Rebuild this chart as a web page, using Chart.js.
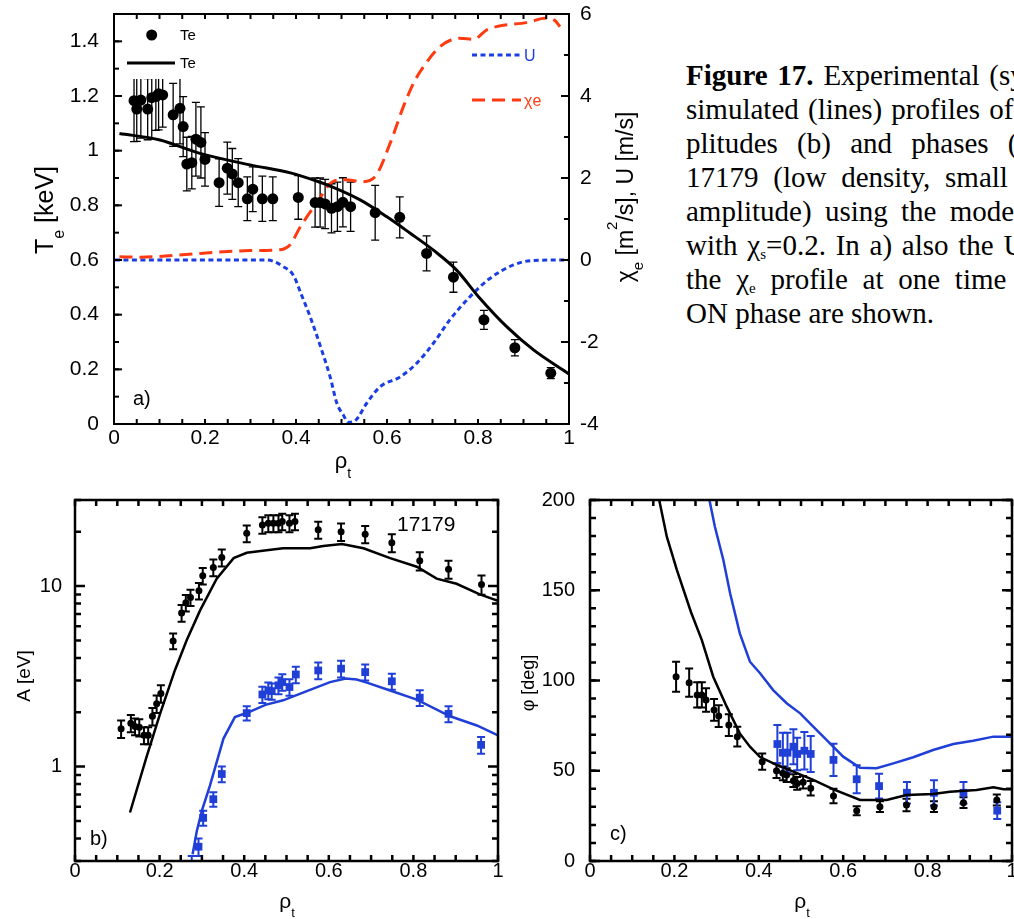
<!DOCTYPE html>
<html>
<head>
<meta charset="utf-8">
<script src="https://cdn.jsdelivr.net/npm/chart.js@4.4.1/dist/chart.umd.min.js"></script>
<style>
  html, body { margin: 0; padding: 0; background: #fff; overflow: hidden; width: 1014px; height: 919px; }
  .panel { position: absolute; }
  #caption { position: absolute; left: 686px; top: 58px; font-family: "Liberation Serif", "Times New Roman", serif; font-size: 29px; line-height: 34px; color: #000; white-space: nowrap; }
  #caption sub { font-size: 15px; vertical-align: -4px; line-height: 0; }
</style>
</head>
<body>
<div class="panel" style="left:0;top:0;width:660px;height:480px"><canvas id="chartA" width="660" height="480"></canvas></div>
<div class="panel" style="left:0;top:480px;width:515px;height:439px"><canvas id="chartB" width="515" height="439"></canvas></div>
<div class="panel" style="left:515px;top:480px;width:530px;height:439px"><canvas id="chartC" width="530" height="439"></canvas></div>
<div id="caption">
  <div style="word-spacing:2.5px"><b>Figure 17.</b> Experimental (symbols) and</div>
  <div style="word-spacing:2px">simulated (lines) profiles of T<sub>e</sub> am-</div>
  <div style="word-spacing:12px">plitudes (b) and phases (c) for</div>
  <div style="word-spacing:7.5px">17179 (low density, small modulation</div>
  <div style="word-spacing:6px">amplitude) using the model</div>
  <div style="word-spacing:2.5px">with χ<sub>s</sub>=0.2. In a) also the U and</div>
  <div style="word-spacing:7.5px">the χ<sub>e</sub> profile at one time point of the</div>
  <div>ON phase are shown.</div>
</div>
<script>
// ---- a) Te profile, chi_e and U ----
const aXTicks = [0, 0.2, 0.4, 0.6, 0.8, 1];
const aTeTicks = [0, 0.2, 0.4, 0.6, 0.8, 1, 1.2, 1.4];
const aRightTicks = [-4, -2, 0, 2, 4, 6];

const teRho = [0.044, 0.050, 0.059, 0.074, 0.083, 0.092, 0.098, 0.107, 0.130, 0.145, 0.152, 0.160, 0.171, 0.180, 0.191, 0.200,
  0.231, 0.249, 0.260, 0.273, 0.293, 0.305, 0.326, 0.349, 0.405, 0.442, 0.453, 0.464, 0.478, 0.491, 0.503, 0.520,
  0.574, 0.628, 0.687, 0.746, 0.813, 0.881, 0.960];
const teVal = [1.183, 1.152, 1.185, 1.152, 1.194, 1.198, 1.208, 1.204, 1.131, 1.155, 1.088, 0.951, 0.956, 1.042, 1.030, 0.968,
  0.883, 0.936, 0.915, 0.883, 0.824, 0.859, 0.824, 0.824, 0.829, 0.810, 0.810, 0.805, 0.789, 0.795, 0.811, 0.795,
  0.773, 0.756, 0.624, 0.537, 0.381, 0.279, 0.186];
const teErr = [0.15, 0.118, 0.139, 0.112, 0.151, 0.124, 0.132, 0.118, 0.115, 0.13, 0.11, 0.098, 0.096, 0.135, 0.13, 0.098,
  0.087, 0.095, 0.093, 0.088, 0.08, 0.082, 0.083, 0.08, 0.08, 0.09, 0.09, 0.09, 0.09, 0.09, 0.09, 0.09,
  0.1, 0.075, 0.064, 0.055, 0.035, 0.03, 0.02];

const teSimRho = [0.012, 0.101, 0.189, 0.299, 0.390, 0.445, 0.482, 0.541, 0.599, 0.651, 0.702, 0.753, 0.804, 0.863, 0.922, 1.0];
const teSimVal = [1.063, 1.039, 0.990, 0.948, 0.918, 0.889, 0.866, 0.820, 0.759, 0.698, 0.636, 0.563, 0.460, 0.356, 0.271, 0.183];

const chiRho = [0.012, 0.057, 0.189, 0.299, 0.365, 0.387, 0.409, 0.445, 0.482, 0.510, 0.545, 0.575, 0.607, 0.636, 0.660, 0.680,
  0.716, 0.760, 0.790, 0.819, 0.848, 0.907, 0.951, 0.969, 0.980];
const chiVal = [0.08, 0.07, 0.16, 0.23, 0.25, 0.37, 0.80, 1.38, 1.92, 1.96, 1.91, 2.05, 2.85, 3.74, 4.35, 4.71,
  5.20, 5.41, 5.38, 5.61, 5.71, 5.79, 5.90, 5.84, 5.69];

const uRho = [0.002, 0.336, 0.372, 0.394, 0.412, 0.431, 0.455, 0.475, 0.490, 0.504, 0.515, 0.530, 0.555, 0.585, 0.629, 0.665,
  0.702, 0.738, 0.782, 0.826, 0.878, 0.922, 1.0];
const uVal = [0, 0, -0.16, -0.37, -0.85, -1.38, -2.15, -2.85, -3.5, -3.78, -3.96, -3.92, -3.50, -3.09, -2.85, -2.52,
  -2.03, -1.46, -0.90, -0.45, -0.12, -0.01, 0];

// ---- b) modulation amplitudes ----
const bXTicks = [0, 0.2, 0.4, 0.6, 0.8, 1];
const bAmpTicks = [1, 10];
const ampRho = [0.109, 0.132, 0.142, 0.152, 0.163, 0.173, 0.183, 0.193, 0.203, 0.232, 0.252, 0.262, 0.273, 0.293, 0.302, 0.327,
  0.347, 0.406, 0.443, 0.457, 0.469, 0.481, 0.490, 0.507, 0.520, 0.575, 0.629, 0.686, 0.749, 0.815, 0.883, 0.961];
const ampVal = [1.62, 1.74, 1.67, 1.65, 1.49, 1.49, 1.90, 2.23, 2.54, 4.97, 7.1, 8.08, 8.65, 9.42, 11.4, 12.7,
  14.4, 19.6, 21.8, 22.3, 22.3, 22.3, 22.8, 22.3, 22.8, 20.5, 20.0, 19.4, 17.4, 13.8, 12.4, 10.2];
const ampErr = [0.18, 0.19, 0.18, 0.18, 0.16, 0.16, 0.21, 0.25, 0.28, 0.5, 0.75, 0.85, 0.9, 1.0, 1.2, 1.35,
  1.55, 2.1, 2.3, 2.4, 2.4, 2.4, 2.4, 2.4, 2.4, 2.2, 2.2, 2.1, 2.0, 1.6, 1.4, 1.25];
const ampRho2 = [0.276, 0.292, 0.303, 0.327, 0.347, 0.406, 0.443, 0.457, 0.465, 0.481, 0.490, 0.507, 0.522, 0.575, 0.629, 0.686,
  0.749, 0.815, 0.883, 0.960];
const ampVal2 = [0.285, 0.36, 0.52, 0.66, 0.91, 1.98, 2.51, 2.64, 2.62, 2.82, 2.94, 2.76, 3.24, 3.41, 3.49, 3.34,
  2.97, 2.41, 1.96, 1.32];
const ampErr2 = [0.035, 0.04, 0.05, 0.06, 0.09, 0.18, 0.26, 0.28, 0.27, 0.3, 0.31, 0.29, 0.34, 0.36, 0.37, 0.34,
  0.3, 0.24, 0.2, 0.14];
const ampSimRho = [0.130, 0.169, 0.201, 0.236, 0.264, 0.296, 0.335, 0.375, 0.406, 0.453, 0.492, 0.556, 0.587, 0.631, 0.682, 0.745,
  0.808, 0.855, 0.902, 0.957, 1.0];
const ampSimVal = [0.557, 1.13, 1.96, 3.41, 5.01, 7.36, 11.0, 14.3, 15.3, 15.8, 16.2, 16.2, 16.7, 17.1, 16.2, 14.3,
  12.8, 11.0, 10.3, 9.0, 8.3];
const ampSimRho2 = [0.278, 0.288, 0.300, 0.319, 0.351, 0.378, 0.410, 0.450, 0.492, 0.548, 0.603, 0.640, 0.666, 0.690, 0.745, 0.808,
  0.887, 0.950, 1.0];
const ampSimVal2 = [0.327, 0.44, 0.57, 0.784, 1.43, 1.88, 2.0, 2.2, 2.33, 2.62, 2.94, 3.08, 3.04, 2.92, 2.64, 2.35,
  1.90, 1.69, 1.49];

// ---- c) phases ----
const cXTicks = [0, 0.2, 0.4, 0.6, 0.8, 1];
const cPhaseTicks = [0, 50, 100, 150, 200];
const phRho = [0.204, 0.235, 0.254, 0.265, 0.275, 0.294, 0.305, 0.329, 0.349, 0.408, 0.442, 0.457, 0.466, 0.482, 0.491, 0.505,
  0.523, 0.577, 0.632, 0.687, 0.750, 0.815, 0.885, 0.964];
const phVal = [102.1, 98.8, 92.0, 92.0, 89.2, 83.7, 80.3, 75.3, 68.9, 55.0, 50.0, 48.6, 47.6, 44.5, 43.0, 43.6,
  40.3, 36.0, 27.9, 30.1, 31.0, 30.1, 32.3, 33.8];
const phErr = [8.3, 7.8, 7, 7, 6.5, 6, 6, 6, 5.5, 4.5, 4, 3.8, 3.8, 3.5, 3.5, 3.5,
  4, 4, 2.5, 3, 3.5, 3, 3, 3];
const phRho2 = [0.444, 0.457, 0.468, 0.482, 0.491, 0.508, 0.523, 0.577, 0.632, 0.685, 0.751, 0.815, 0.885, 0.965];
const phVal2 = [64.8, 60.0, 60.0, 63.3, 59.3, 61.1, 59.3, 56.0, 45.3, 41.5, 37.8, 37.8, 37.8, 27.9];
const phErr2 = [10.6, 11, 11, 9.7, 9, 10.4, 10, 8.9, 7.7, 6.9, 6, 7, 6, 4.6];
const phSimRho = [0.164, 0.182, 0.206, 0.239, 0.265, 0.292, 0.324, 0.355, 0.379, 0.403, 0.442, 0.482, 0.529, 0.577, 0.640, 0.703,
  0.750, 0.813, 0.853, 0.916, 0.956, 0.980, 1.0];
const phSimVal = [200, 179.7, 161.2, 138.1, 122.4, 102.1, 85.5, 70.7, 63.3, 57.6, 53.2, 49.5, 44.9, 39.7, 33.8, 33.8,
  36.6, 37.1, 38.4, 39.3, 40.8, 39.7, 39.7];
const phSimRho2 = [0.283, 0.296, 0.316, 0.332, 0.355, 0.379, 0.403, 0.434, 0.466, 0.498, 0.529, 0.561, 0.600, 0.640, 0.679, 0.719,
  0.766, 0.813, 0.861, 0.908, 0.956, 1.0];
const phSimVal2 = [200, 185.2, 166.8, 148.3, 126.1, 110.4, 104.0, 94.7, 87.4, 81.8, 74.4, 67.0, 57.8, 51.7, 51.4, 54.1,
  57.5, 61.5, 64.8, 66.6, 68.9, 68.9];

const SANS = '"Liberation Sans", Arial, Helvetica, sans-serif';
const BLUE = '#1f3fd6';
const RED = '#ff3a10';

function pts(xs, ys) {
  return xs.map((x, i) => ({ x: x, y: ys[i] }));
}

function steps(from, to, step) {
  const out = [];
  const n = Math.round((to - from) / step);
  for (let i = 0; i <= n; i++) out.push(+(from + i * step).toFixed(6));
  return out;
}

// text with sub/superscripts, (x, y) = centre of the baseline (or its start)
function drawRich(ctx, parts, x, y, size, rot, align, color) {
  const fontOf = p => (p[1] ? Math.round(size * 0.64) : size) + 'px ' + SANS;
  ctx.save();
  ctx.translate(x, y);
  ctx.rotate(rot || 0);
  ctx.fillStyle = color || '#000';
  ctx.textBaseline = 'alphabetic';
  let w = 0;
  parts.forEach(p => { ctx.font = fontOf(p); w += ctx.measureText(p[0]).width; });
  let cx = align === 'left' ? 0 : -w / 2;
  parts.forEach(p => {
    ctx.font = fontOf(p);
    const dy = p[1] === 'sub' ? size * 0.45 : p[1] === 'sup' ? -size * 0.7 : 0;
    ctx.fillText(p[0], cx, dy);
    cx += ctx.measureText(p[0]).width;
  });
  ctx.restore();
}

// error bars under the markers
const errorBars = {
  id: 'errorBars',
  beforeDatasetsDraw(chart) {
    const { ctx, chartArea: a } = chart;
    chart.data.datasets.forEach((ds, i) => {
      if (!ds.errors) return;
      const meta = chart.getDatasetMeta(i);
      const ys = chart.scales[meta.yAxisID];
      ctx.save();
      ctx.beginPath();
      ctx.rect(a.left, a.top, a.right - a.left, a.bottom - a.top);
      ctx.clip();
      ctx.strokeStyle = ds.borderColor;
      ctx.lineWidth = ds.errorWidth || 1.5;
      const cap = ds.capWidth || 4;
      meta.data.forEach((el, j) => {
        const v = ds.data[j].y, e = ds.errors[j];
        const top = ys.getPixelForValue(v + e);
        const bot = ys.getPixelForValue(v - e);
        ctx.beginPath();
        ctx.moveTo(el.x, top); ctx.lineTo(el.x, bot);
        ctx.moveTo(el.x - cap, top); ctx.lineTo(el.x + cap, top);
        ctx.moveTo(el.x - cap, bot); ctx.lineTo(el.x + cap, bot);
        ctx.stroke();
      });
      ctx.restore();
    });
  }
};

// box frame with inward tick marks, plus free text
const frameAndNotes = {
  id: 'frameAndNotes',
  afterDraw(chart, args, opts) {
    const { ctx, chartArea: a } = chart;
    if (opts.before) opts.before(chart);
    ctx.save();
    ctx.strokeStyle = '#000';
    ctx.lineWidth = opts.lineWidth;
    ctx.strokeRect(a.left, a.top, a.right - a.left, a.bottom - a.top);
    (opts.marks || []).forEach(m => {
      const s = chart.scales[m.scale];
      m.values.forEach(v => {
        const p = s.getPixelForValue(v);
        ctx.beginPath();
        m.sides.forEach(side => {
          if (side === 'bottom') { ctx.moveTo(p, a.bottom); ctx.lineTo(p, a.bottom - m.len); }
          if (side === 'top') { ctx.moveTo(p, a.top); ctx.lineTo(p, a.top + m.len); }
          if (side === 'left') { ctx.moveTo(a.left, p); ctx.lineTo(a.left + m.len, p); }
          if (side === 'right') { ctx.moveTo(a.right, p); ctx.lineTo(a.right - m.len, p); }
        });
        ctx.stroke();
      });
    });
    ctx.restore();
    (opts.notes || []).forEach(n => drawRich(ctx, n.parts, n.x, n.y, n.size, n.rot, n.align, n.color));
  }
};

// fixed axis size, no extra room for overhanging end labels
function fixSize(prop, px) {
  return s => {
    s[prop] = px;
    s.paddingTop = 0; s.paddingBottom = 0; s.paddingLeft = 0; s.paddingRight = 0;
  };
}

function linScale(min, max, ticks, size, pad, extra) {
  return Object.assign({
    type: 'linear', min: min, max: max,
    grid: { display: false, drawTicks: false }, border: { display: false },
    afterBuildTicks: s => { s.ticks = ticks.map(v => ({ value: v })); },
    ticks: { color: '#000', font: { family: SANS, size: size }, padding: pad, maxRotation: 0, callback: v => String(v) }
  }, extra);
}

const baseOpts = {
  responsive: false, animation: false, events: [],
  plugins: { legend: { display: false }, tooltip: { enabled: false } }
};

// ---------- panel a ----------
new Chart(document.getElementById('chartA'), {
  type: 'scatter',
  data: {
    datasets: [
      { label: 'Te', data: pts(teRho, teVal), errors: teErr, errorWidth: 1.3, capWidth: 4,
        pointRadius: 5.5, backgroundColor: '#000', borderColor: '#000', borderWidth: 0, yAxisID: 'y' },
      { label: 'Te sim', data: pts(teSimRho, teSimVal), showLine: true, pointRadius: 0, borderColor: '#000',
        borderWidth: 3, cubicInterpolationMode: 'monotone', yAxisID: 'y' },
      { label: 'χe', data: pts(chiRho, chiVal), showLine: true, pointRadius: 0, borderColor: RED,
        borderWidth: 3, borderDash: [13, 7], cubicInterpolationMode: 'monotone', yAxisID: 'y2' },
      { label: 'U', data: pts(uRho, uVal), showLine: true, pointRadius: 0, borderColor: '#1b3ee4',
        borderWidth: 3, borderDash: [5, 3.5], cubicInterpolationMode: 'monotone', yAxisID: 'y2' }
    ]
  },
  options: Object.assign({}, baseOpts, {
    layout: { padding: { top: 14 } },
    scales: {
      x: linScale(0, 1, aXTicks, 21, 2, { afterFit: fixSize('height', 56) }),
      y: linScale(0, 1.5, aTeTicks, 21, 15, { position: 'left', afterFit: fixSize('width', 114) }),
      y2: linScale(-4, 6, aRightTicks, 21, 11, { position: 'right', afterFit: fixSize('width', 91) })
    },
    plugins: Object.assign({}, baseOpts.plugins, {
      frameAndNotes: {
        lineWidth: 2,
        before: chart => {
          const ctx = chart.ctx;
          ctx.save();
          // legend block (white background over the data)
          ctx.fillStyle = '#fff';
          ctx.fillRect(116, 16, 84, 63);
          ctx.fillStyle = '#000';
          ctx.beginPath(); ctx.arc(151.7, 35, 5.5, 0, Math.PI * 2); ctx.fill();
          ctx.strokeStyle = '#000'; ctx.lineWidth = 3;
          ctx.beginPath(); ctx.moveTo(127, 63); ctx.lineTo(175, 63); ctx.stroke();
          ctx.strokeStyle = '#1b3ee4'; ctx.setLineDash([5, 3.5]);
          ctx.beginPath(); ctx.moveTo(472, 55); ctx.lineTo(521, 55); ctx.stroke();
          ctx.strokeStyle = RED; ctx.setLineDash([13, 7]);
          ctx.beginPath(); ctx.moveTo(472, 100); ctx.lineTo(521, 100); ctx.stroke();
          ctx.setLineDash([]);
          ctx.restore();
        },
        marks: [
          { scale: 'x', sides: ['bottom', 'top'], values: steps(0, 1, 0.05), len: 5 },
          { scale: 'y', sides: ['left'], values: steps(0, 1.5, 0.1), len: 5 },
          { scale: 'y', sides: ['left'], values: aTeTicks, len: 8 },
          { scale: 'y2', sides: ['right'], values: steps(-4, 6, 1), len: 5 },
          { scale: 'y2', sides: ['right'], values: aRightTicks, len: 8 }
        ],
        notes: [
          { parts: [['Te']], x: 180, y: 40, size: 15, align: 'left' },
          { parts: [['Te']], x: 180, y: 68, size: 15, align: 'left' },
          { parts: [['U']], x: 524, y: 61, size: 16, align: 'left', color: '#1b3ee4' },
          { parts: [['χe']], x: 524, y: 106, size: 16, align: 'left', color: RED },
          { parts: [['a)']], x: 133, y: 405, size: 20, align: 'left' },
          { parts: [['T'], ['e', 'sub'], [' [keV]']], x: 53, y: 210, size: 25, rot: -Math.PI / 2 },
          { parts: [['χ'], ['e', 'sub'], [' [m'], ['2', 'sup'], ['/s], U [m/s]']], x: 633, y: 197, size: 23, rot: -Math.PI / 2 },
          { parts: [['ρ'], ['t', 'sub']], x: 343, y: 468, size: 22 }
        ]
      }
    })
  }),
  plugins: [errorBars, frameAndNotes]
});

// ---------- panel b ----------
new Chart(document.getElementById('chartB'), {
  type: 'scatter',
  data: {
    datasets: [
      { label: 'A sim', data: pts(ampSimRho, ampSimVal), showLine: true, pointRadius: 0, borderColor: '#000', borderWidth: 2.5 },
      { label: 'A sim 2', data: pts(ampSimRho2, ampSimVal2), showLine: true, pointRadius: 0, borderColor: BLUE, borderWidth: 2.5 },
      { label: 'A', data: pts(ampRho, ampVal), errors: ampErr, errorWidth: 2, capWidth: 4,
        pointRadius: 3.5, backgroundColor: '#000', borderColor: '#000', borderWidth: 0 },
      { label: 'A 2', data: pts(ampRho2, ampVal2), errors: ampErr2, errorWidth: 2, capWidth: 4,
        pointStyle: 'rect', pointRadius: 5.5, backgroundColor: BLUE, borderColor: BLUE, borderWidth: 0 }
    ]
  },
  options: Object.assign({}, baseOpts, {
    layout: { padding: { top: 20, right: 17 } },
    scales: {
      x: linScale(0, 1, bXTicks, 20, -2, { afterFit: fixSize('height', 58) }),
      y: linScale(0.3, 30, bAmpTicks, 20, 13, { type: 'logarithmic', position: 'left', afterFit: fixSize('width', 75) })
    },
    plugins: Object.assign({}, baseOpts.plugins, {
      frameAndNotes: {
        lineWidth: 2.5,
        marks: [
          { scale: 'x', sides: ['bottom', 'top'], values: steps(0, 1, 0.05), len: 6 },
          { scale: 'y', sides: ['left', 'right'], values: [0.3, 0.4, 0.5, 0.6, 0.7, 0.8, 0.9, 2, 3, 4, 5, 6, 7, 8, 9, 20, 30], len: 6 },
          { scale: 'y', sides: ['left', 'right'], values: bAmpTicks, len: 10 }
        ],
        notes: [
          { parts: [['17179']], x: 397, y: 51, size: 21, align: 'left' },
          { parts: [['b)']], x: 90, y: 365, size: 20, align: 'left' },
          { parts: [['A [eV]']], x: 30, y: 196, size: 19, rot: -Math.PI / 2 },
          { parts: [['ρ'], ['t', 'sub']], x: 287, y: 428, size: 21 }
        ]
      }
    })
  }),
  plugins: [errorBars, frameAndNotes]
});

// ---------- panel c ----------
new Chart(document.getElementById('chartC'), {
  type: 'scatter',
  data: {
    datasets: [
      { label: 'phi sim', data: pts(phSimRho, phSimVal), showLine: true, pointRadius: 0, borderColor: '#000', borderWidth: 2.5 },
      { label: 'phi sim 2', data: pts(phSimRho2, phSimVal2), showLine: true, pointRadius: 0, borderColor: BLUE, borderWidth: 2.5 },
      { label: 'phi', data: pts(phRho, phVal), errors: phErr, errorWidth: 2, capWidth: 4,
        pointRadius: 3.5, backgroundColor: '#000', borderColor: '#000', borderWidth: 0 },
      { label: 'phi 2', data: pts(phRho2, phVal2), errors: phErr2, errorWidth: 2, capWidth: 4,
        pointStyle: 'rect', pointRadius: 5.5, backgroundColor: BLUE, borderColor: BLUE, borderWidth: 0 }
    ]
  },
  options: Object.assign({}, baseOpts, {
    layout: { padding: { top: 20, right: 33 } },
    scales: {
      x: linScale(0, 1, cXTicks, 20, -2, { afterFit: fixSize('height', 58) }),
      y: linScale(0, 200, cPhaseTicks, 20, 15, { position: 'left', afterFit: fixSize('width', 75) })
    },
    plugins: Object.assign({}, baseOpts.plugins, {
      frameAndNotes: {
        lineWidth: 2.5,
        marks: [
          { scale: 'x', sides: ['bottom', 'top'], values: steps(0, 1, 0.05), len: 6 },
          { scale: 'y', sides: ['left', 'right'], values: steps(0, 200, 10), len: 6 },
          { scale: 'y', sides: ['left', 'right'], values: cPhaseTicks, len: 10 }
        ],
        notes: [
          { parts: [['c)']], x: 95, y: 360, size: 20, align: 'left' },
          { parts: [['φ [deg]']], x: 19, y: 203, size: 18, rot: -Math.PI / 2 },
          { parts: [['ρ'], ['t', 'sub']], x: 287, y: 428, size: 21 }
        ]
      }
    })
  }),
  plugins: [errorBars, frameAndNotes]
});
</script>
</body>
</html>
